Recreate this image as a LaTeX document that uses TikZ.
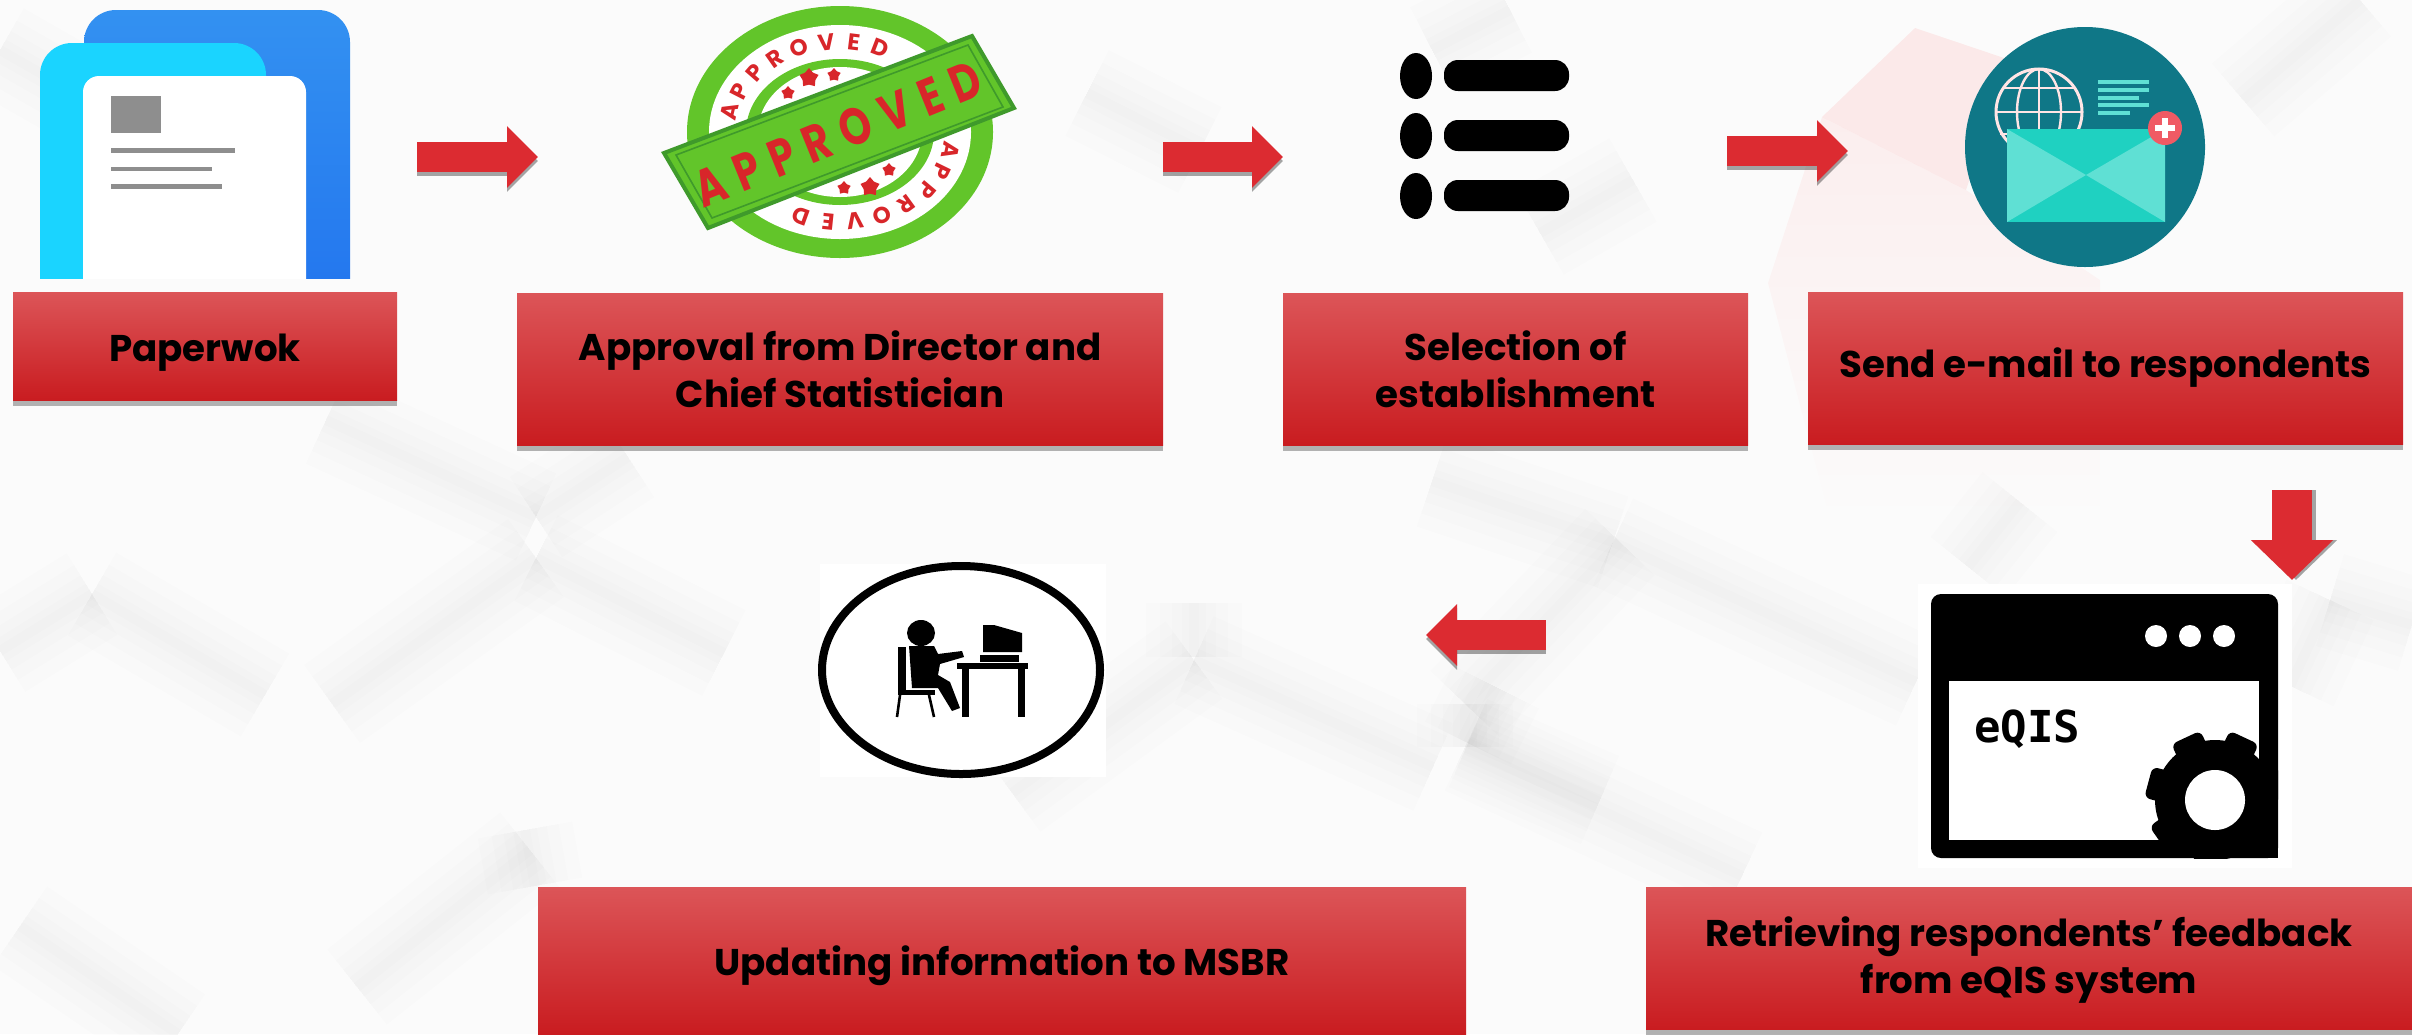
\documentclass[tikz,border=0pt]{standalone}
\usepackage{fontspec}
\setmainfont{Poppins}
\newfontfamily\monofont{DejaVu Sans Mono}
\usetikzlibrary{shapes,shadows,arrows.meta,fadings}
\definecolor{boxtop}{HTML}{DC5558}
\definecolor{boxmid}{HTML}{DF2A30}
\definecolor{boxbot}{HTML}{C91C20}
\definecolor{flowred}{HTML}{DC2B31}
\definecolor{bluetop}{HTML}{3391F1}
\definecolor{bluebot}{HTML}{2274EE}
\definecolor{cyanmid}{HTML}{1AD4FF}
\definecolor{sheetgrey}{HTML}{8E8E8E}
\definecolor{stampgreen}{HTML}{62C52A}
\definecolor{stampdark}{HTML}{3F9A2B}
\definecolor{stampred}{HTML}{D8262A}
\definecolor{mailteal}{HTML}{0F7787}
\definecolor{mailmint}{HTML}{1FD1C1}
\definecolor{mailpale}{HTML}{5FE0D4}
\definecolor{mailbadge}{HTML}{F05A64}
\tikzstyle{stepbox} = [rectangle, top color=boxtop, middle color=boxmid, bottom color=boxbot, drop shadow={shadow xshift=0pt, shadow yshift=-3pt, opacity=.6}, align=center, font=\fontsize{18.6}{23.5}\selectfont\bfseries, inner sep=0pt]
\tikzstyle{onerow} = [text height=19pt, text depth=4pt]
\tikzstyle{flow} = [-{Triangle[length=15.5pt, width=30pt]}, line width=15pt, draw=flowred]
\tikzstyle{flowshadow} = [-{Triangle[length=15.5pt, width=30pt]}, line width=15pt, draw=black, opacity=.35]
\tikzstyle{flowwide} = [-{Triangle[length=20pt, width=40pt]}, line width=20pt, draw=flowred]
\tikzstyle{softedge} = [draw=black, opacity=.006]
\tikzstyle{ringtext} = [text=stampred, font=\fontsize{11.5}{12}\selectfont\bfseries, inner sep=0pt]
\begin{document}
\begin{tikzpicture}[x=.5pt, y=-.5pt]
	  \useasboundingbox (0,0) rectangle (2412,1034);
	  \fill [white!98.5!black] (0,0) rectangle (2412,1034);
	
	  % background blocks
	  \fill [red, opacity=.07] (1915,28) -- (2010,60) -- (1966,190) -- (1822,117) -- cycle;
	  \fill [red, opacity=.05, path fading=south] (1822,117) -- (1966,190) -- (2100,280) -- (2100,520) -- (1830,520) -- (1768,283) -- cycle;
	  \foreach \wd in {48,34,22,12,5} {
	    \foreach \xa/\ya/\xb/\yb in {536/558/332/704, 326/420/536/517, 92/594/265/695, 92/594/0/651, 536/558/724/653,
	      536/517/628/457, 530/850/357/987, 20/926/178/1034, 525/830/535/886, 1194/603/1194/657, 1194/660/1433/767,
	      1194/660/1012/793, 1468/743/1496/687, 1468/743/1600/800, 1620/542/1465/704, 1465/704/1465/747, 1465/747/1742/876,
	      1432/481/1613/542, 1613/542/1916/682, 2020/502/1968/567, 2330/600/2412/625, 2330/600/2290/686, 0/50/70/90,
	      1087/93/1200/150, 1633/180/1540/233, 1510/10/1432/50, 2360/0/2243/100} {
	      \draw [softedge, line width=\wd pt] (\xa,\ya) -- (\xb,\yb);
	    }
	  }
	
	  % paper icon
	  \begin{scope}
	    \clip (0,0) rectangle (2412,278);
	    \shade [top color=bluetop, bottom color=bluebot, rounded corners=16pt] (84,10) rectangle (350,320);
	    \fill [cyanmid, rounded corners=16pt] (40,43) rectangle (266,320);
	    \fill [white, rounded corners=8pt] (83,76) rectangle (306,320);
	  \end{scope}
	  \fill [sheetgrey] (111,96) rectangle (161,133);
	  \fill [sheetgrey] (111,148) rectangle (235,153);
	  \fill [sheetgrey] (111,167) rectangle (212,171);
	  \fill [sheetgrey] (111,184) rectangle (222,189);
	
	  % stamp icon
	  \fill [stampgreen] (840,132) ellipse [x radius=153, y radius=126];
	  \fill [white] (840,132) ellipse [x radius=131, y radius=107];
	  \fill [stampgreen] (840,132) ellipse [x radius=94, y radius=73];
	  \fill [white] (840,132) ellipse [x radius=82, y radius=65];
	  \foreach \ch [count=\i from 0] in {A,P,P,R,O,V,E,D} {
	    \pgfmathsetmacro{\ta}{167-14*\i}
	    \pgfmathsetmacro{\tb}{-12-14*\i}
	    \node [ringtext, rotate=\ta-90] (ringa\i) at ({840+113*cos(\ta)},{132-90*sin(\ta)}) {\ch};
	    \node [ringtext, rotate=\tb-90] (ringb\i) at ({840+113*cos(\tb)},{132-90*sin(\tb)}) {\ch};
	  }
	  \foreach \xs/\ys/\sz [count=\i] in {788/93/7, 809/78/10, 834/75/7, 844/188/7, 870/187/10, 889/170/7} {
	    \node [star, star points=5, fill=stampred, inner sep=0pt, minimum size=\sz pt] (star\i) at (\xs,\ys) {};
	  }
	  \fill [stampgreen, draw=stampdark, line width=2pt] (664,153) -- (972,36) -- (1014,108) -- (708,228) -- cycle;
	  \draw [stampdark, line width=.8pt] (676,155) -- (968,45) -- (1003,107) -- (712,218) -- cycle;
	  \node [text=stampred, font=\fontsize{26}{26}\selectfont\bfseries\addfontfeatures{LetterSpace=30}, rotate=22, xscale=.78] (approved) at (838,134) {APPROVED};
	
	  % list icon
	  \foreach \ys in {76,136,196} {
	    \fill [black] (1416,\ys) ellipse [x radius=16, y radius=23];
	    \fill [black, rounded corners=7pt] (1444,\ys-16) rectangle (1569,\ys+15);
	  }
	
	  % mail icon
	  \fill [mailteal] (2085,147) circle [radius=120];
	  \draw [white!90!red, line width=1.5pt] (2039,112) circle [radius=43];
	  \draw [white!90!red, line width=1.2pt] (2039,112) ellipse [x radius=22, y radius=43];
	  \draw [white!90!red, line width=1.2pt] (2039,69) -- (2039,155);
	  \draw [white!90!red, line width=1.2pt] (1996,112) -- (2082,112);
	  \draw [white!90!red, line width=1.2pt] (2004,88) -- (2074,88);
	  \draw [white!90!red, line width=1.2pt] (2000,134) -- (2078,134);
	  \foreach \ys/\xe in {82/2149, 90/2149, 98/2139, 105/2149, 113/2130} {
	    \draw [mailpale, line width=1.6pt] (2098,\ys) -- (\xe,\ys);
	  }
	  \fill [mailmint] (2007,129) rectangle (2165,222);
	  \fill [mailpale] (2007,129) -- (2086,175) -- (2007,222) -- cycle;
	  \fill [mailpale] (2165,129) -- (2086,175) -- (2165,222) -- cycle;
	  \fill [mailbadge] (2165,128) circle [radius=17];
	  \fill [white] (2155,125) rectangle (2175,131);
	  \fill [white] (2162,118) rectangle (2168,138);
	
	  % window icon
	  \fill [white] (1918,584) rectangle (2292,868);
	  \fill [black, rounded corners=5pt] (1931,594) rectangle (2278,858);
	  \fill [white] (1949,681) rectangle (2259,840);
	  \foreach \xs in {2156,2190,2224} {
	    \fill [white] (\xs,636) circle [radius=11];
	  }
	  \node [font=\fontsize{22}{22}\selectfont\monofont\bfseries, inner sep=0pt] (eqis) at (2027,729) {eQIS};
	  \begin{scope}
	    \clip (1949,681) rectangle (2278,858);
	    \fill [black] (2215,800) circle [radius=60];
	    \foreach \ang in {15,65,...,325} {
	      \fill [black, rounded corners=3pt, rotate around={\ang:(2215,800)}] (2260,784) rectangle (2284,816);
	    }
	    \fill [black] (2165,840) rectangle (2278,858);
	    \fill [white] (2215,800) circle [radius=30];
	  \end{scope}
	
	  % desk icon
	  \fill [white] (820,564) rectangle (1106,777);
	  \draw [black, line width=4pt] (961,670) ellipse [x radius=139, y radius=104];
	  \fill [black] (921,633) ellipse [x radius=14, y radius=13];
	  \fill [black] (898,647) rectangle (906,694);
	  \fill [black] (898,690) rectangle (935,695);
	  \draw [black, line width=1.3pt] (900,695) -- (897,717);
	  \draw [black, line width=1.3pt] (929,695) -- (934,717);
	  \fill [black] (909,646) -- (934,646) -- (938,654) -- (962,651) -- (964,657) -- (940,664) -- (938,675) -- (950,682) -- (960,708) -- (952,711) -- (938,688) -- (912,688) -- cycle;
	  \fill [black] (957,663) rectangle (1028,669);
	  \fill [black] (962,669) rectangle (969,717);
	  \fill [black] (1018,669) rectangle (1025,717);
	  \fill [black] (983,625) -- (994,625) -- (1022,633) -- (1022,652) -- (983,652) -- cycle;
	  \fill [black] (980,655) rectangle (1019,662);
	
	  % steps
	  \node [stepbox, onerow, minimum width=192pt, minimum height=54pt] (paper) at (205,346) {Paperwok};
	  \node [stepbox, minimum width=323pt, minimum height=76pt] (approval) at (840,369) {Approval from Director and\\Chief Statistician};
	  \node [stepbox, minimum width=232.5pt, minimum height=76pt] (select) at (1515.5,369) {Selection of\\establishment};
	  \node [stepbox, minimum width=297.5pt, minimum height=76pt] (mail) at (2105.5,368) {Send e-mail to respondents};
	  \node [stepbox, minimum width=383pt, minimum height=71pt] (feedback) at (2029,958) {\rule{0pt}{17pt}Retrieving respondents’ feedback\\from eQIS system};
	  \node [stepbox, onerow, minimum width=464pt, minimum height=73.5pt] (msbr) at (1002,960.5) {Updating information to MSBR};
	
	  % arrows
	  \coordinate (paperout) at (417,157);
	  \coordinate (approvalin) at (538,157);
	  \coordinate (approvalout) at (1163,157);
	  \coordinate (selectin) at (1283,157);
	  \coordinate (selectout) at (1727,151);
	  \coordinate (mailin) at (1848,151);
	  \coordinate (mailout) at (2292,490);
	  \coordinate (windowin) at (2292,580);
	  \coordinate (windowout) at (1546,635);
	  \coordinate (deskin) at (1426,635);
	  \foreach \from/\to in {paperout/approvalin, approvalout/selectin, selectout/mailin, windowout/deskin} {
	    \draw [flowshadow, transform canvas={yshift=-2pt}] (\from) -- (\to);
	    \draw [flow] (\from) -- (\to);
	  }
	  \draw [flowwide, draw=black, opacity=.35, transform canvas={xshift=2pt}] (mailout) -- (windowin);
	  \draw [flowwide] (mailout) -- (windowin);
	\end{tikzpicture}
\end{document}
